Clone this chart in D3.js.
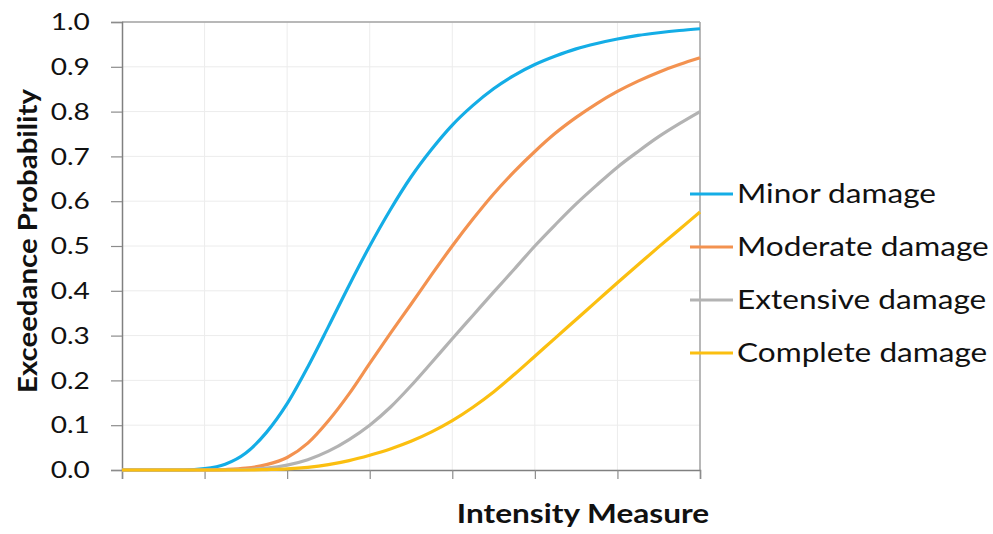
<!DOCTYPE html>
<html>
<head>
<meta charset="utf-8">
<script src="https://cdn.jsdelivr.net/npm/d3@7"></script>
<style>
body { margin: 0; background: #fff; }
text { font-family: Lato, "Open Sans", sans-serif; fill: #111; }
</style>
</head>
<body>
<script>
// intensity measure steps (unlabelled axis, 7 intervals)
var imValues = [0, 0.25, 0.5, 0.75, 1, 1.25, 1.5, 1.75, 2, 2.25, 2.5, 2.75, 3, 3.25, 3.5, 3.75,
	4, 4.25, 4.5, 4.75, 5, 5.25, 5.5, 5.75, 6, 6.25, 6.5, 6.75, 7]

var minorDamage = [0, 0, 0, 0, 0.003, 0.013, 0.038, 0.084, 0.148, 0.23, 0.32, 0.412, 0.50, 0.581, 0.654,
	0.716, 0.77, 0.814, 0.851, 0.881, 0.905, 0.924, 0.94, 0.952, 0.962, 0.97, 0.976, 0.981, 0.985]
var moderateDamage = [0, 0, 0, 0, 0, 0.001, 0.004, 0.012, 0.028, 0.06, 0.11, 0.17, 0.238, 0.305, 0.37,
	0.436, 0.5, 0.56, 0.616, 0.666, 0.711, 0.752, 0.787, 0.818, 0.845, 0.868, 0.888, 0.905, 0.92]
var extensiveDamage = [0, 0, 0, 0, 0, 0, 0.001, 0.004, 0.011, 0.023, 0.042, 0.068, 0.10, 0.14, 0.188,
	0.24, 0.293, 0.345, 0.397, 0.448, 0.50, 0.548, 0.594, 0.636, 0.676, 0.711, 0.744, 0.773, 0.80]
var completeDamage = [0, 0, 0, 0, 0, 0, 0, 0.001, 0.0025, 0.006, 0.012, 0.021, 0.033, 0.047, 0.064,
	0.085, 0.11, 0.14, 0.174, 0.213, 0.254, 0.295, 0.336, 0.377, 0.418, 0.458, 0.498, 0.537, 0.576]

var seriesNames = ["Minor damage", "Moderate damage", "Extensive damage", "Complete damage"]
var seriesColors = ["#14ade6", "#f39250", "#b3b3b3", "#fbbf10"]
var seriesValues = [minorDamage, moderateDamage, extensiveDamage, completeDamage]

var yTicks = [0, 0.1, 0.2, 0.3, 0.4, 0.5, 0.6, 0.7, 0.8, 0.9, 1.0]
var xTicks = [0, 1, 2, 3, 4, 5, 6, 7]

// the original text is a little wider than Lato, stretch it horizontally
var stretch = 1.17

var margin = {left: 122, top: 22, right: 293, bottom: 64}
var width = 993, height = 534
var w = width - margin.left - margin.right
var h = height - margin.top - margin.bottom

var svg = d3.select("body")
	.append("svg")
	.attr("width", width)
	.attr("height", height);

var x = d3.scaleLinear().domain([0, 7]).range([0, w])
var y = d3.scaleLinear().domain([0, 1]).range([h, 0])

var g = svg.append("g")
	.attr("transform", "translate(" + margin.left + "," + margin.top + ")");

// gridlines
g.selectAll(".hgrid")
	.data(yTicks.slice(1))
	.enter()
	.append("line")
	.attr("x1", 0).attr("x2", w)
	.attr("y1", function(d) { return y(d) })
	.attr("y2", function(d) { return y(d) })
	.attr("stroke", "#ececec")
	.attr("stroke-width", 1);

g.selectAll(".vgrid")
	.data(xTicks.slice(1))
	.enter()
	.append("line")
	.attr("y1", 0).attr("y2", h)
	.attr("x1", function(d) { return x(d) })
	.attr("x2", function(d) { return x(d) })
	.attr("stroke", "#ececec")
	.attr("stroke-width", 1);

// top and right frame
g.append("line").attr("x1", 0).attr("x2", w).attr("y1", 0).attr("y2", 0)
	.attr("stroke", "#a3a3a3").attr("stroke-width", 1.5);
g.append("line").attr("x1", w).attr("x2", w).attr("y1", 0).attr("y2", h)
	.attr("stroke", "#a3a3a3").attr("stroke-width", 1.5);

var yAxis = g.append("g")
	.call(d3.axisLeft(y).tickValues(yTicks).tickFormat(d3.format(".1f")).tickSize(11).tickPadding(16.5));
var xAxis = g.append("g")
	.attr("transform", "translate(0," + h + ")")
	.call(d3.axisBottom(x).tickValues(xTicks).tickFormat("").tickSize(9));

[yAxis, xAxis].forEach(function(a) {
	a.select(".domain").attr("stroke", "#808080").attr("stroke-width", 1.5);
	a.selectAll(".tick line").attr("stroke", "#8c8c8c").attr("stroke-width", 1.2);
});
yAxis.selectAll(".tick text")
	.style("font-size", "24px")
	.attr("fill", "#111")
	.attr("transform", "scale(" + stretch + ",1)");

// curves
var line = d3.line()
	.x(function(d, i) { return x(imValues[i]) })
	.y(function(d) { return y(d) })
	.curve(d3.curveMonotoneX);

seriesValues.forEach(function(vals, i) {
	g.append("path")
		.datum(vals)
		.attr("fill", "none")
		.attr("stroke", seriesColors[i])
		.attr("stroke-width", 3.2)
		.attr("d", line);
});

// legend
var legend = svg.append("g")
	.attr("transform", "translate(690,194)");

var item = legend.selectAll("g")
	.data(seriesNames)
	.enter()
	.append("g")
	.attr("transform", function(d, i) { return "translate(0," + (i * 53) + ")" });

item.append("line")
	.attr("x1", 0).attr("x2", 43)
	.attr("stroke", function(d, i) { return seriesColors[i] })
	.attr("stroke-width", 3.2);

item.append("text")
	.attr("transform", "translate(47,0) scale(" + stretch + ",1)")
	.attr("dy", "0.35em")
	.style("font-size", "27px")
	.text(function(d) { return d });

// axis titles
svg.append("text")
	.attr("transform", "translate(583,523) scale(" + stretch + ",1)")
	.attr("text-anchor", "middle")
	.style("font-size", "27px")
	.style("font-weight", "bold")
	.text("Intensity Measure");

svg.append("text")
	.attr("transform", "translate(37,241) rotate(-90) scale(1.13,1)")
	.attr("text-anchor", "middle")
	.style("font-size", "26px")
	.style("font-weight", "bold")
	.text("Exceedance Probability");
</script>
</body>
</html>
